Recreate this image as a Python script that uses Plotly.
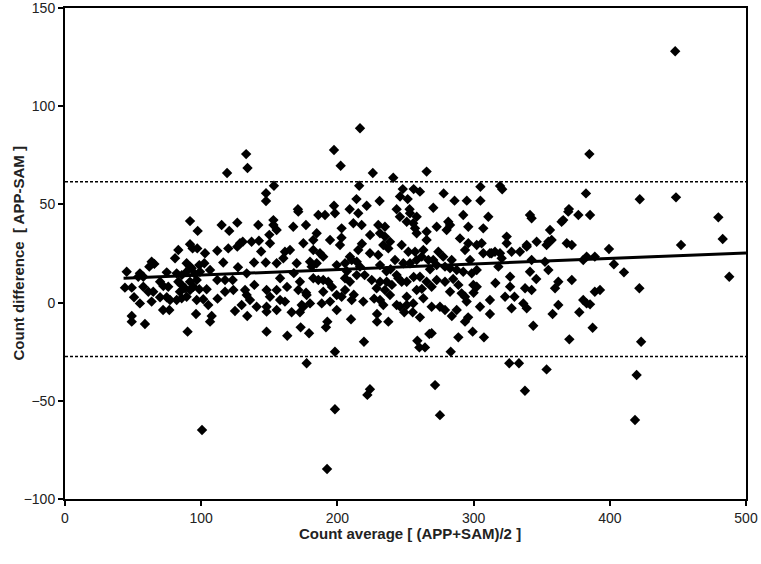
import plotly.graph_objects as go

# Bland-Altman: APP vs SAM counts
count_avg = [
    448, 100.6, 192.4, 418.5, 275.3, 198.2, 223.9, 222, 337.7, 271.7,
    419.7, 353.6, 326.2, 333.3, 177.4, 283.2, 198.2,
    119, 133, 134, 147.6, 147.6, 216.6, 197.5, 202.4, 226, 241,
    265.5, 153.4, 216, 248, 256, 260.6, 246, 251.6, 214, 231,
    197.5, 221.5, 171, 209, 243.5, 253, 385, 278, 305, 319.4,
    321, 286, 295, 305, 382.5, 270.4, 370, 422, 448.6,
    385.5, 479.7, 482.9, 452.3, 399.4, 389, 403, 410.4, 487.7, 421.7,
    389, 392.8, 385.5, 387.4, 423,
    284, 279, 287.6, 293.7, 296, 312, 269.2, 288.8, 299.3, 307.6,
    343.8, 358, 377.6, 370.3,
    166.4, 172.5, 155.4, 163.2, 173, 179.2, 192.6, 191.6, 199.5, 210,
    229.1, 229.1, 237.4, 249.1, 255.3, 260.6, 267.5, 219.5, 258.7, 260.2,
    264.3,
    49, 49, 58.7, 72, 76.6, 90, 96.2, 107.7, 106.5, 124.8,
    133.8, 148, 148,
    91.8, 97.4, 115, 120.6, 126.5, 141.9, 150, 128.5, 130.5, 126.5,
    137, 142.4, 91.8, 93.7, 83.2, 97.1, 102.8, 111.8, 119.9, 80.8,
    89.3, 91.8, 93, 98.6, 102.3, 116.2, 138.8, 147.4, 63.6, 65.6,
    61.9, 45.3, 55, 57.5, 53.8, 74.7, 82, 85.7, 89.3, 95.4,
    99.1, 106.5, 111.8, 117.5, 123.1, 133.4, 44, 49, 50.7, 57.5,
    61.2, 64.8, 69.8, 72.2, 75.8, 69.8, 74.7, 77.1, 55, 63.6,
    83.2, 85.7, 88.1, 84.4, 82, 85.7, 89.3, 91.8, 94.2, 96.7,
    91.8, 98.6, 104, 96.7, 101.5, 105.2, 117.5, 123.6, 132.2, 133.4,
    135.8, 140.7, 148, 129.7, 148,
    171.3, 186, 190.9, 198.2, 215.3, 245.9, 253.3, 258.2, 153, 211.7,
    217.8, 250.9, 255.7, 257, 258.2, 265.5, 167.6, 176.9, 203.1, 230,
    234.9, 153, 155.4, 184.8, 182.3, 175, 194.6, 224, 231.3, 234.9,
    238.6, 247.2, 233.7, 265.5, 150.5, 201.9, 237.4, 252.1, 257, 263.1,
    161.5, 165.2, 182.3, 187.2, 189.6, 215.3, 209.2, 223.9, 230, 160.3,
    155.4, 170.1, 179.9, 181.1, 184.8, 199.5, 205.6, 210.5, 214.2, 216.6,
    231.3, 242.3, 248.4, 253.3, 258.2, 261.9, 266.8,
    157.9, 172.5, 182.3, 186, 189.6, 193.3, 205.6, 209.2, 214.2, 225.2,
    231.3, 236.2, 243.5, 244.7, 247.2, 250.9, 260.6, 265.5,
    155.4, 171.3, 189.6, 177.4, 199.5, 205.6, 228.8, 234.9, 238.6, 258.2,
    250.9, 263.1, 150.5,
    157.9, 161.5, 173.8, 179.9, 188.5, 194.6, 203.1, 210.5, 219, 231.3,
    233.7, 243.5, 250.9, 255.7, 175,
    292.4, 310.8, 341.4, 342.6, 369.5, 376.9, 364.6, 365.8, 281.4, 282.7,
    272.9, 280.2, 296.1, 307.1, 324.3, 290, 296.1, 302.3, 305.9, 324.3,
    339, 346.3, 354.9, 357.3, 353.6, 356.1, 368.4, 372.1,
    274.1, 277.7, 270.4, 283.9, 293.7, 297.4, 307.1, 312, 315.7, 319.4,
    320.6, 327.9, 334, 339, 342.6, 352.4, 313.2, 380.5, 383,
    272.9, 279, 282.7, 287.6, 292.4, 298.6, 302.3, 318.2, 326.8, 341.4,
    354.9, 362.2, 372.1, 299.8, 302.3, 326.8, 337.8, 342.6, 359.8, 272.9,
    279, 269.2, 282.7, 288.8, 291.2, 293.7, 294.9, 312, 323.1, 327.9,
    336.5, 339, 380.5, 383, 269.2, 275.3, 304.7, 362.2,
    # extra marks in the crowded middle band
    163, 168, 177, 196, 207, 212, 220, 227, 236, 240,
    246, 262, 268, 285, 300, 316, 330, 346, 112, 127,
    139, 144, 203, 218, 239, 256,
]
count_diff = [
    128, -64.9, -84.7, -59.8, -57.3, -54.3, -44.1, -47, -44.9, -42,
    -36.9, -34, -30.9, -30.9, -30.9, -25, -25,
    66, 75.6, 68.5, 55.7, 51.7, 88.8, 77.7, 69.7, 66, 63.6,
    66.7, 59.5, 59.5, 57.8, 57.8, 56.5, 54, 52.7, 52.7, 51.7,
    49.3, 49.3, 47.5, 47.5, 47.5, 47.5, 75.6, 55.6, 59, 59.4,
    57.7, 51.9, 51.9, 51.9, 55.6, 48.3, 47.6, 52.6, 53.6,
    44.6, 43.4, 32.4, 29.3, 27.3, 23.4, 19.5, 15.4, 13.2, 7.3,
    5.5, 6.4, -0.9, -12.8, -19.9,
    -6.8, -3.8, -3.8, -9.7, -7.5, -5.8, -15.6, -17.7, -14.8, -17.7,
    -11.8, -5.8, -4.9, -18.7,
    -4.9, -4.9, -3.8, -16.9, -12.6, -15.6, -9.7, -12.6, -3.8, -8.5,
    -5.8, -9.7, -9.7, -4.9, -4.9, -7.5, -16, -19.9, -19.4, -22.8,
    -22.8,
    -6.8, -9.7, -10.9, -3.8, -3.8, -14.8, -5.8, -6.8, -9.7, -4.3,
    -6.8, -14.8, -4.6,
    41.5, 36.5, 39.5, 36.5, 40.7, 39.5, 34.5, 30.2, 31, 28.5,
    31, 31.5, 29.7, 27.6, 26.8, 27.6, 25.1, 26.4, 27.6, 22.6,
    20, 18.3, 17.5, 19.1, 20, 20.4, 20.4, 20.4, 20.8, 19.7,
    18.3, 15.7, 14.9, 13.2, 13.2, 15.4, 14.9, 14, 15.7, 14.6,
    15.7, 16.6, 11.5, 11.5, 11.5, 14.9, 7.6, 7.6, 2.7, 8.1,
    5.5, 5.5, 10.6, 8.4, 8.1, 2.7, 2.7, 1.3, -0.4, 0.5,
    10.6, 9, 7.3, 5.5, 1.3, 2.2, 3, 6.4, 8.1, 11.5,
    10.6, 6.8, 6.8, 1.3, 1.7, -1.2, 5.5, 6.4, 6.4, 3.9,
    1.3, -2.1, -2.1, -1.2, 6.4,
    46.3, 44.6, 44.6, 45.5, 45.5, 43.7, 45.5, 43.7, 42, 40.4,
    39.5, 41.2, 40.4, 37.8, 35.3, 36.1, 38.6, 39.5, 37.8, 39.5,
    38.6, 39.5, 37, 35.3, 31.9, 30.2, 31.9, 34.4, 35.3, 33.6,
    31, 29.3, 29.3, 31.9, 30.2, 29.3, 27.6, 25.9, 25.9, 26.8,
    25.9, 26.8, 26.8, 25.1, 23.4, 26.8, 23.4, 25.1, 24.2, 22.6,
    20, 20, 20.8, 18.3, 20, 19.1, 20, 21.7, 20.8, 18.3,
    19.1, 21.7, 20, 20, 21.7, 23.4, 21.7,
    12.4, 10.6, 12.4, 11.5, 11.5, 10.6, 12.4, 10.6, 14, 11.5,
    10.6, 10.6, 14, 12.4, 10.6, 10.6, 13.2, 10.6,
    6.4, 6.4, 5.5, 3.9, 3.9, 6.4, 7.3, 6.4, 3.9, 6.4,
    3, 2.2, 3,
    1.3, 0.5, -1.2, -0.4, -0.4, 0.5, 3, 1.3, 0.5, 1.3,
    -1.2, -1.2, -1.2, -0.4, -2.1,
    44.6, 43.7, 44.6, 42.9, 46.3, 44.6, 41.2, 42, 41.2, 39.5,
    38.6, 37, 38.6, 37.8, 33.6, 32.7, 30.2, 29.3, 30.2, 30.2,
    29.3, 31, 31, 31.9, 29.3, 37, 30.2, 29.3,
    25.9, 23.4, 21.7, 21.7, 26.8, 21.7, 25.1, 25.1, 25.9, 25.1,
    22.6, 25.9, 25.9, 28.5, 21.7, 20.8, 25.1, 21.7, 23.4,
    19.1, 18.3, 17.5, 16.6, 15.7, 14.9, 16.6, 18.3, 13.2, 15.7,
    16.6, 10.6, 11.5, 9, 8.1, 8.1, 7.3, 6.4, 7.3, 11.5,
    10.6, 8.1, 5.5, 9, 4.7, 3, 0.5, 1.3, 3, -2.9,
    -0.4, -2.9, 1.3, -0.4, -2.1, -2.1, -2.1, -1.2,
    8, 15, 5, 8, 16, 4, 14, 2, 16, 9,
    -2, 7, 17, 12, 5, 10, 3, 12, 2, 18,
    9, 26, 33, 30, 17, 13,
]

# regression line end points and limits of agreement
trend_x = [43, 500]
trend_y = [12.4, 25.3]
upper_loa = 61.5
lower_loa = -27.5

x_title = "<b>Count average [ (APP+SAM)/2 ]</b>"
y_title = "<b>Count difference  [ APP-SAM ]</b>"

FONT = "Liberation Sans, Arial, sans-serif"

fig = go.Figure()

fig.add_trace(go.Scatter(
    x=count_avg, y=count_diff, mode="markers",
    marker=dict(symbol="diamond", size=8, color="black", line=dict(width=0)),
    showlegend=False))

fig.add_trace(go.Scatter(
    x=trend_x, y=trend_y, mode="lines",
    line=dict(color="black", width=3), showlegend=False))

for v in (upper_loa, lower_loa):
    fig.add_shape(type="line", xref="paper", x0=0, x1=1, yref="y", y0=v, y1=v,
                  line=dict(color="black", width=1.5, dash="3px,2px"))

axis_style = dict(
    showline=True, linecolor="black", linewidth=2, mirror=True,
    ticks="outside", ticklen=5, tickwidth=1.5, tickcolor="black",
    showgrid=False, zeroline=False, automargin=False,
    ticklabeloverflow="allow",
    tickfont=dict(family=FONT, size=14, color="#222"),
)

fig.update_xaxes(range=[0, 500], dtick=100, **axis_style)
fig.update_yaxes(range=[-100, 150], dtick=50, **axis_style)

# axis titles placed as annotations so they sit where the original has them
title_font = dict(family=FONT, size=15, color="#222")
fig.add_annotation(text=x_title, xref="paper", yref="paper", x=0.507, y=-0.07,
                   xanchor="center", yanchor="middle", showarrow=False, font=title_font)
fig.add_annotation(text=y_title, xref="paper", yref="paper", x=-0.069, y=0.5,
                   xanchor="center", yanchor="middle", textangle=-90,
                   showarrow=False, font=title_font)

fig.update_layout(
    width=761, height=564,
    margin=dict(l=65, r=15, t=8, b=65),
    plot_bgcolor="white", paper_bgcolor="white",
)

# drop the default page margin so the figure sits at the window's corner
fig.write_html("out.html", config={"displayModeBar": False},
               post_script="document.body.style.margin='0';")
